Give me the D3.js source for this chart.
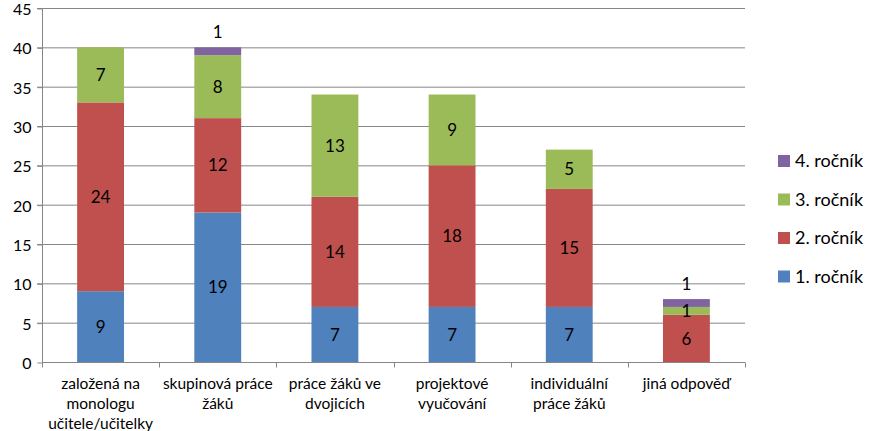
<!DOCTYPE html>
<html>
<head>
<meta charset="utf-8">
<script src="https://cdn.jsdelivr.net/npm/d3@7"></script>
<style>
  body { margin: 0; background: #fff; }
  svg text { font-family: Lato, "Open Sans", sans-serif; fill: #000; }
</style>
</head>
<body>
<script>
// Data
const categories = [
    ["založená na", "monologu", "učitele/učitelky"],
    ["skupinová práce", "žáků"],
    ["práce žáků ve", "dvojicích"],
    ["projektové", "vyučování"],
    ["individuální", "práce žáků"],
    ["jiná odpověď"]
];
const seriesNames = ["1. ročník", "2. ročník", "3. ročník", "4. ročník"];
const rocnik1 = [9, 19, 7, 7, 7, 0];
const rocnik2 = [24, 12, 14, 18, 15, 6];
const rocnik3 = [7, 8, 13, 9, 5, 1];
const rocnik4 = [0, 1, 0, 0, 0, 1];
const yTicks = [0, 5, 10, 15, 20, 25, 30, 35, 40, 45];
const colors = ["#4F81BD", "#C0504D", "#9BBB59", "#8064A2"];

const width = 870, height = 431;
const margin = {top: 8, right: 125, bottom: 69, left: 42};

const svg = d3.select("body").append("svg")
    .attr("width", width)
    .attr("height", height);

const x = d3.scaleBand()
    .domain(d3.range(categories.length))
    .range([margin.left, width - margin.right])
    .paddingInner(0.6)
    .paddingOuter(0.3);

const y = d3.scaleLinear()
    .domain([0, 45])
    .range([height - margin.bottom, margin.top]);

// gridlines
svg.append("g")
    .selectAll("line")
    .data(yTicks.slice(1))
    .enter().append("line")
    .attr("x1", margin.left - 5)
    .attr("x2", width - margin.right)
    .attr("y1", d => y(d) + 0.5)
    .attr("y2", d => y(d) + 0.5)
    .attr("stroke", "#868686")
    .attr("stroke-width", 1);

// stack the series
const rows = categories.map((c, i) => ({
    idx: i, s0: rocnik1[i], s1: rocnik2[i], s2: rocnik3[i], s3: rocnik4[i]
}));
const stack = d3.stack().keys(["s0", "s1", "s2", "s3"]);
const layers = stack(rows);

const layerG = svg.append("g")
    .selectAll("g")
    .data(layers)
    .enter().append("g")
    .attr("fill", (d, i) => colors[i]);

layerG.selectAll("rect")
    .data(d => d)
    .enter().append("rect")
    .attr("x", d => x(d.data.idx))
    .attr("width", x.bandwidth())
    .attr("y", d => y(d[1]))
    .attr("height", d => y(d[0]) - y(d[1]));

// value labels (4. ročník placed above the bar like in the original)
layers.forEach((layer, li) => {
    svg.append("g")
        .selectAll("text")
        .data(layer.filter(d => d[1] - d[0] > 0))
        .enter().append("text")
        .attr("x", d => x(d.data.idx) + x.bandwidth() / 2)
        .attr("y", d => li === 3 ? y(d[1]) - 15 : y((d[0] + d[1]) / 2))
        .attr("dy", "0.36em")
        .attr("text-anchor", "middle")
        .style("font-size", "17px")
        .text(d => d[1] - d[0]);
});

// y axis
const yAxis = svg.append("g")
    .attr("transform", "translate(" + (margin.left + 0.5) + ",0)")
    .call(d3.axisLeft(y).tickValues(yTicks).tickSize(5).tickPadding(6));
yAxis.select(".domain").attr("stroke", "#868686").attr("d",
    "M0," + y(45) + "V" + (y(0) + 0.5));
yAxis.selectAll(".tick line").attr("stroke", "#868686").attr("transform", "translate(0,0.5)");
yAxis.selectAll(".tick text")
    .style("font-size", "16px")
    .style("font-family", "Lato, sans-serif")
    .attr("dy", "0.4em")
    .attr("fill", "#000");

// x axis line and separators
const bottom = y(0) + 0.5;
const step = (width - margin.right - margin.left) / categories.length;
svg.append("line")
    .attr("x1", margin.left)
    .attr("x2", width - margin.right)
    .attr("y1", bottom).attr("y2", bottom)
    .attr("stroke", "#868686");
svg.append("g")
    .selectAll("line")
    .data(d3.range(categories.length + 1))
    .enter().append("line")
    .attr("x1", d => Math.round(margin.left + d * step) + 0.5)
    .attr("x2", d => Math.round(margin.left + d * step) + 0.5)
    .attr("y1", bottom).attr("y2", bottom + 5)
    .attr("stroke", "#868686");

// category labels
svg.append("g")
    .selectAll("text")
    .data(categories)
    .enter().append("text")
    .attr("text-anchor", "middle")
    .style("font-size", "15.5px")
    .each(function(lines, i) {
        const t = d3.select(this);
        lines.forEach((ln, j) => {
            t.append("tspan")
                .attr("x", x(i) + x.bandwidth() / 2)
                .attr("y", bottom + 26 + j * 20)
                .text(ln);
        });
    });

// legend (reverse order, like the original)
const legendOrder = [3, 2, 1, 0];
const legend = svg.append("g")
    .selectAll("g")
    .data(legendOrder)
    .enter().append("g")
    .attr("transform", (d, i) => "translate(778," + (155 + i * 38.5) + ")");
legend.append("rect")
    .attr("width", 12).attr("height", 12)
    .attr("fill", d => colors[d]);
legend.append("text")
    .attr("x", 17)
    .attr("y", 6)
    .attr("dy", "0.36em")
    .style("font-size", "18px")
    .text(d => seriesNames[d]);
</script>
</body>
</html>
